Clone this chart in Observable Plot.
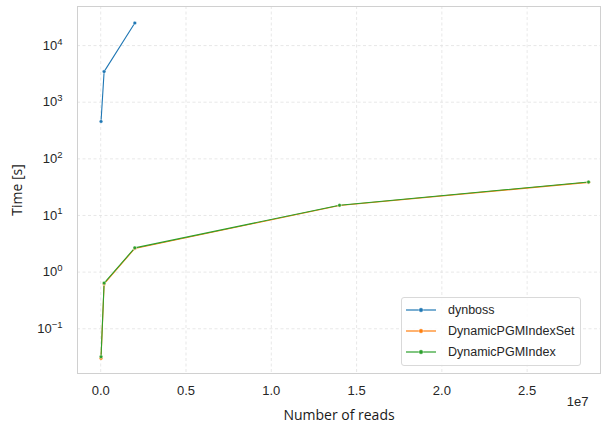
<!DOCTYPE html>
<html>
<head>
<meta charset="utf-8">
<script src="https://cdn.jsdelivr.net/npm/d3@7"></script>
<script src="https://cdn.jsdelivr.net/npm/@observablehq/plot@0.6"></script>
<style>
  body { margin: 0; background: #fff; }
  #wrap { position: relative; width: 612px; height: 430px; }
  #legend { position: absolute; left: 401px; top: 297px; width: 180px; height: 69px; border: 1px solid #d9d9d9; border-radius: 3px; background: rgba(255,255,255,0.85); box-sizing: border-box; font-family: "Liberation Sans", Arial, sans-serif; font-size: 12.5px; color: #262626; }
  .row { position: absolute; left: 0; height: 20px; display: flex; align-items: center; white-space: nowrap; }
  .row svg { margin-left: 4px; margin-right: 12px; }
</style>
</head>
<body>
<div id="wrap"></div>
<script>
const seriesNames = ["dynboss", "DynamicPGMIndexSet", "DynamicPGMIndex"];
const seriesColors = ["#1f77b4", "#ff7f0e", "#2ca02c"];
const dynbossReads = [20000, 200000, 2000000];
const dynbossTime = [457, 3470, 25000];
const pgmReads = [20000, 200000, 2000000, 14000000, 28600000];
const pgmSetTime = [0.030, 0.62, 2.62, 15.0, 38.5];
const pgmTime = [0.032, 0.64, 2.68, 15.2, 39.0];
const xTicks = [0, 5e6, 1e7, 1.5e7, 2e7, 2.5e7];
const yTicks = [0.1, 1, 10, 100, 1000, 10000];

const rows = [];
dynbossReads.forEach((r, i) => rows.push({series: seriesNames[0], reads: r, time: dynbossTime[i]}));
pgmReads.forEach((r, i) => rows.push({series: seriesNames[1], reads: r, time: pgmSetTime[i]}));
pgmReads.forEach((r, i) => rows.push({series: seriesNames[2], reads: r, time: pgmTime[i]}));

const gridStyle = {stroke: "#e2e2e2", strokeOpacity: 1, strokeDasharray: "3,2.5", strokeWidth: 0.8};
const tickFont = "Liberation Sans, Arial, sans-serif";

const chart = Plot.plot({
  width: 612,
  height: 430,
  marginLeft: 77,
  marginRight: 12,
  marginTop: 6,
  marginBottom: 57,
  style: {fontFamily: tickFont, fontSize: "13px", color: "#262626"},
  x: {domain: [-0.136e7, 2.93e7]},
  y: {type: "log", domain: [Math.pow(10, -1.79), Math.pow(10, 4.69)]},
  color: {domain: seriesNames, range: seriesColors},
  marks: [
    Plot.gridX(xTicks, gridStyle),
    Plot.gridY(yTicks, gridStyle),
    Plot.frame({stroke: "#d0d0d0", strokeWidth: 1}),
    Plot.axisX(xTicks, {tickSize: 0, tickPadding: 12, tickFormat: d => (d / 1e7).toFixed(1), fill: "#262626",
      label: "Number of reads", labelAnchor: "center", labelArrow: "none", labelOffset: 46}),
    Plot.axisY(yTicks, {tickSize: 0, tickPadding: 15, tickFormat: d => "10^" + Math.round(Math.log10(d)), fill: "#262626",
      label: "Time [s]", labelAnchor: "center", labelArrow: "none", labelOffset: 65}),
    Plot.text(["1e7"], {frameAnchor: "bottom-right", dy: 32, dx: -12, text: d => d, fill: "#262626", fontSize: 13, textAnchor: "end"}),
    Plot.line(rows, {x: "reads", y: "time", z: "series", stroke: "series", strokeWidth: 1.1}),
    Plot.dot(rows, {x: "reads", y: "time", fill: "series", r: 1.8, stroke: "white", strokeWidth: 0.4})
  ]
});

// superscript exponents on y tick labels
d3.select(chart).selectAll('g[aria-label="y-axis tick label"] text').each(function() {
  const t = d3.select(this);
  const s = t.text();
  if (s.includes("^")) {
    const [b, e] = s.split("^");
    t.text(b);
    t.append("tspan").attr("dy", "-0.55em").attr("font-size", "9.5px").text(e.replace("-", "\u2212"));
  }
});
d3.select(chart).selectAll('g[aria-label="y-axis label"] text, g[aria-label="x-axis label"] text')
  .attr("font-size", "14px").attr("font-family", "Open Sans, sans-serif").attr("fill", "#1a1a1a");

const wrap = document.getElementById("wrap");
wrap.appendChild(chart);

const legend = document.createElement("div");
legend.id = "legend";
seriesNames.forEach((name, i) => {
  const row = document.createElement("div");
  row.className = "row";
  row.style.top = (2 + i * 21) + "px";
  row.innerHTML = `<svg width="30" height="8"><line x1="0" y1="4" x2="30" y2="4" stroke="${seriesColors[i]}" stroke-width="1.2"/><circle cx="15" cy="4" r="2.2" fill="${seriesColors[i]}" stroke="white" stroke-width="0.4"/></svg>`;
  const span = document.createElement("span");
  span.textContent = name;
  row.appendChild(span);
  legend.appendChild(row);
});
wrap.appendChild(legend);
</script>
</body>
</html>
